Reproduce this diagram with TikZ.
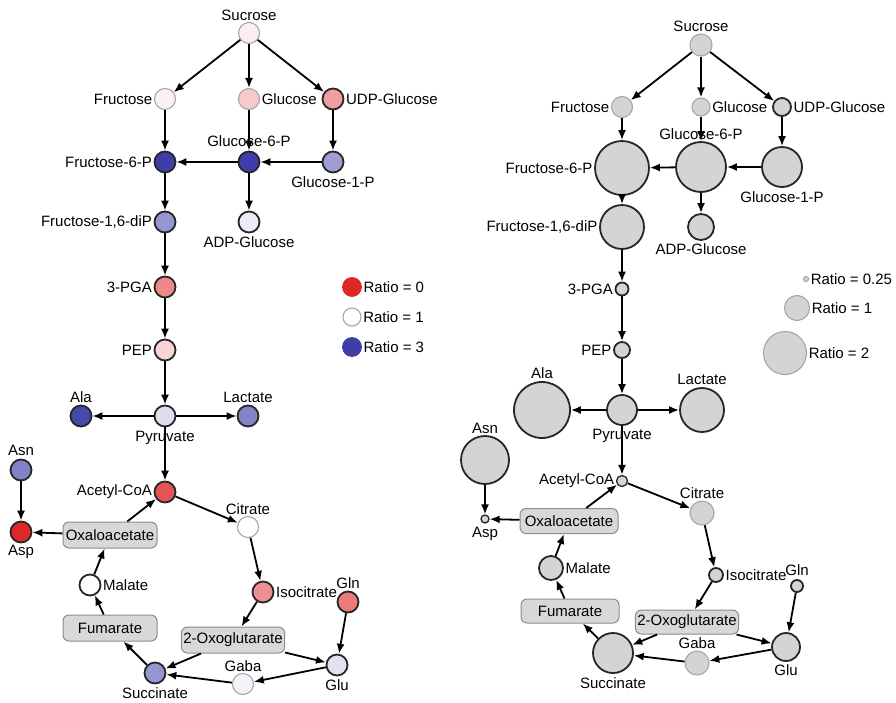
\documentclass[tikz,border=0pt]{standalone}
\usepackage{fontspec}
\setmainfont{Liberation Sans}
\usetikzlibrary{arrows.meta}

\definecolor{lo}{RGB}{222,40,40}
\definecolor{hi}{RGB}{62,62,168}
\definecolor{nodegrey}{RGB}{212,212,212}
\definecolor{boxgrey}{RGB}{216,216,216}

\tikzset{
  met/.style={circle, draw=black!85, line width=1.8pt, inner sep=0pt, minimum size=21pt},
  gmet/.style={met, fill=nodegrey},
  faint/.style={draw=black!35, line width=1.1pt},
  pool/.style={rectangle, rounded corners=6pt, draw=black!45, line width=1pt, fill=boxgrey,
    minimum width=94pt, minimum height=26pt, inner sep=2pt},
  flow/.style={-{Latex[length=10pt,width=8pt]}, line width=1.8pt},
  every label/.style={inner sep=1.5pt},
}

\begin{document}
\begin{tikzpicture}[x=1pt,y=-1pt,font=\fontsize{15}{18}\selectfont]
\useasboundingbox (0,0) rectangle (896,702);

% ratio colours
\node[met, faint, fill=lo!8, label={above:Sucrose}] (lsuc) at (249,33) {};
\node[met, faint, fill=lo!6, label={left:Fructose}] (lfru) at (165,99) {};
\node[met, faint, fill=lo!25, label={right:Glucose}] (lglc) at (249,99) {};
\node[met, fill=lo!45, label={right:UDP-Glucose}] (ludp) at (333,99) {};
\node[met, fill=hi!100, label={left:Fructose-6-P}] (lf6p) at (165,162) {};
\node[met, fill=hi!100, label={[label distance=2pt]above:Glucose-6-P}] (lg6p) at (249,162) {};
\node[met, fill=hi!50, label={[label distance=2pt]below:Glucose-1-P}] (lg1p) at (333,162) {};
\node[met, fill=hi!55, label={left:{Fructose-1,6-diP}}] (lf16) at (165,222) {};
\node[met, fill=hi!10, label={[label distance=2pt]below:ADP-Glucose}] (ladp) at (249,222) {};
\node[met, fill=lo!55, label={left:3-PGA}] (lpga) at (165,287) {};
\node[met, fill=lo!20, label={left:PEP}] (lpep) at (165,350) {};
\node[met, fill=hi!17, label={[label distance=2pt]below:Pyruvate}] (lpyr) at (165,416) {};
\node[met, fill=hi!95, label={above:Ala}] (lala) at (81,416) {};
\node[met, fill=hi!65, label={above:Lactate}] (llac) at (248,416) {};
\node[met, fill=hi!65, label={[label distance=1pt]above:Asn}] (lasn) at (21,470) {};
\node[met, fill=lo, label={below:Asp}] (lasp) at (21,532) {};
\node[met, fill=lo!80, label={left:Acetyl-CoA}] (lacoa) at (165,492) {};
\node[pool] (loaa) at (110,535) {Oxaloacetate};
\node[met, faint, fill=white, label={above:Citrate}] (lcit) at (248,527) {};
\node[met, fill=white, label={right:Malate}] (lmal) at (90,585) {};
\node[met, fill=lo!52, label={right:Isocitrate}] (licit) at (263,592) {};
\node[met, fill=lo!62, label={above:Gln}] (lgln) at (348,602) {};
\node[pool] (lfum) at (110,628) {Fumarate};
\node[pool] (lakg) at (233,640) {2-Oxoglutarate};
\node[met, fill=hi!55, label={[label distance=2pt]below:Succinate}] (lsucc) at (155,673) {};
\node[met, faint, fill=hi!6, label={above:Gaba}] (lgaba) at (243,684) {};
\node[met, fill=hi!15, label={[label distance=2pt]below:Glu}] (lglu) at (337,665) {};

\node[met, draw=lo, fill=lo, minimum size=18pt, label={right:Ratio = 0}] (lkey0) at (352,287) {};
\node[met, faint, fill=white, minimum size=18pt, label={right:Ratio = 1}] (lkey1) at (352,317) {};
\node[met, draw=hi, fill=hi, minimum size=18pt, label={right:Ratio = 3}] (lkey3) at (352,347) {};

% ratio sizes
\node[gmet, faint, minimum size=22pt, label={above:Sucrose}] (rsuc) at (701,45) {};
\node[gmet, faint, minimum size=21pt, label={left:Fructose}] (rfru) at (622,107) {};
\node[gmet, faint, minimum size=18pt, label={right:Glucose}] (rglc) at (701,107) {};
\node[gmet, minimum size=18pt, label={right:UDP-Glucose}] (rudp) at (782,107) {};
\node[gmet, minimum size=54pt, label={left:Fructose-6-P}] (rf6p) at (622,168) {};
\node[gmet, minimum size=50pt, label={above:Glucose-6-P}] (rg6p) at (701,167) {};
\node[gmet, minimum size=40pt, label={[label distance=2pt]below:Glucose-1-P}] (rg1p) at (782,167) {};
\node[gmet, minimum size=44pt, label={left:{Fructose-1,6-diP}}] (rf16) at (622,227) {};
\node[gmet, minimum size=26pt, label={[label distance=1pt]below:ADP-Glucose}] (radp) at (701,227) {};
\node[gmet, minimum size=13pt, label={left:3-PGA}] (rpga) at (622,289) {};
\node[gmet, minimum size=16pt, label={left:PEP}] (rpep) at (622,350) {};
\node[gmet, minimum size=30pt, label={[label distance=2pt]below:Pyruvate}] (rpyr) at (622,410) {};
\node[gmet, minimum size=56pt, label={[label distance=1pt]above:Ala}] (rala) at (542,410) {};
\node[gmet, minimum size=44pt, label={[label distance=1pt]above:Lactate}] (rlac) at (702,410) {};
\node[gmet, minimum size=48pt, label={above:Asn}] (rasn) at (485,460) {};
\node[gmet, line width=1.3pt, minimum size=8pt, label={[label distance=2pt]below:Asp}] (rasp) at (485,519) {};
\node[gmet, line width=1.3pt, minimum size=11pt, label={left:Acetyl-CoA}] (racoa) at (622,481) {};
\node[pool, minimum width=98pt, minimum height=25pt] (roaa) at (569,521) {Oxaloacetate};
\node[gmet, faint, minimum size=24pt, label={above:Citrate}] (rcit) at (702,513) {};
\node[gmet, minimum size=24pt, label={right:Malate}] (rmal) at (551,568) {};
\node[gmet, minimum size=14pt, label={right:Isocitrate}] (ricit) at (716,575) {};
\node[gmet, minimum size=12pt, label={[label distance=2pt]above:Gln}] (rgln) at (797,586) {};
\node[pool, minimum width=98pt, minimum height=24pt] (rfum) at (570,611) {Fumarate};
\node[pool, minimum width=98pt, minimum height=24pt] (rakg) at (687,622) {2-Oxoglutarate};
\node[gmet, minimum size=40pt, label={[label distance=2pt]below:Succinate}] (rsucc) at (613,653) {};
\node[gmet, faint, minimum size=24pt, label={above:Gaba}] (rgaba) at (697,663) {};
\node[gmet, minimum size=28pt, label={[label distance=1pt]below:Glu}] (rglu) at (786,647) {};

\node[gmet, faint, minimum size=5pt, label={right:Ratio = 0.25}] (rkey0) at (806,279) {};
\node[gmet, faint, minimum size=25pt, label={right:Ratio = 1}] (rkey1) at (797,308) {};
\node[gmet, faint, minimum size=43pt, label={right:Ratio = 2}] (rkey2) at (785,353) {};

% same reactions in both maps
\foreach \p in {l,r}
  \foreach \a/\b in {suc/fru, suc/glc, suc/udp, fru/f6p, glc/g6p, udp/g1p,
      g1p/g6p, g6p/f6p, g6p/adp, f6p/f16, f16/pga, pga/pep, pep/pyr,
      pyr/ala, pyr/lac, pyr/acoa, asn/asp, oaa/asp, oaa/acoa, acoa/cit,
      cit/icit, icit/akg, gln/glu, akg/glu, akg/succ, glu/gaba, gaba/succ,
      succ/fum, fum/mal, mal/oaa}
    \draw[flow] (\p\a) -- (\p\b);
\end{tikzpicture}
\end{document}
